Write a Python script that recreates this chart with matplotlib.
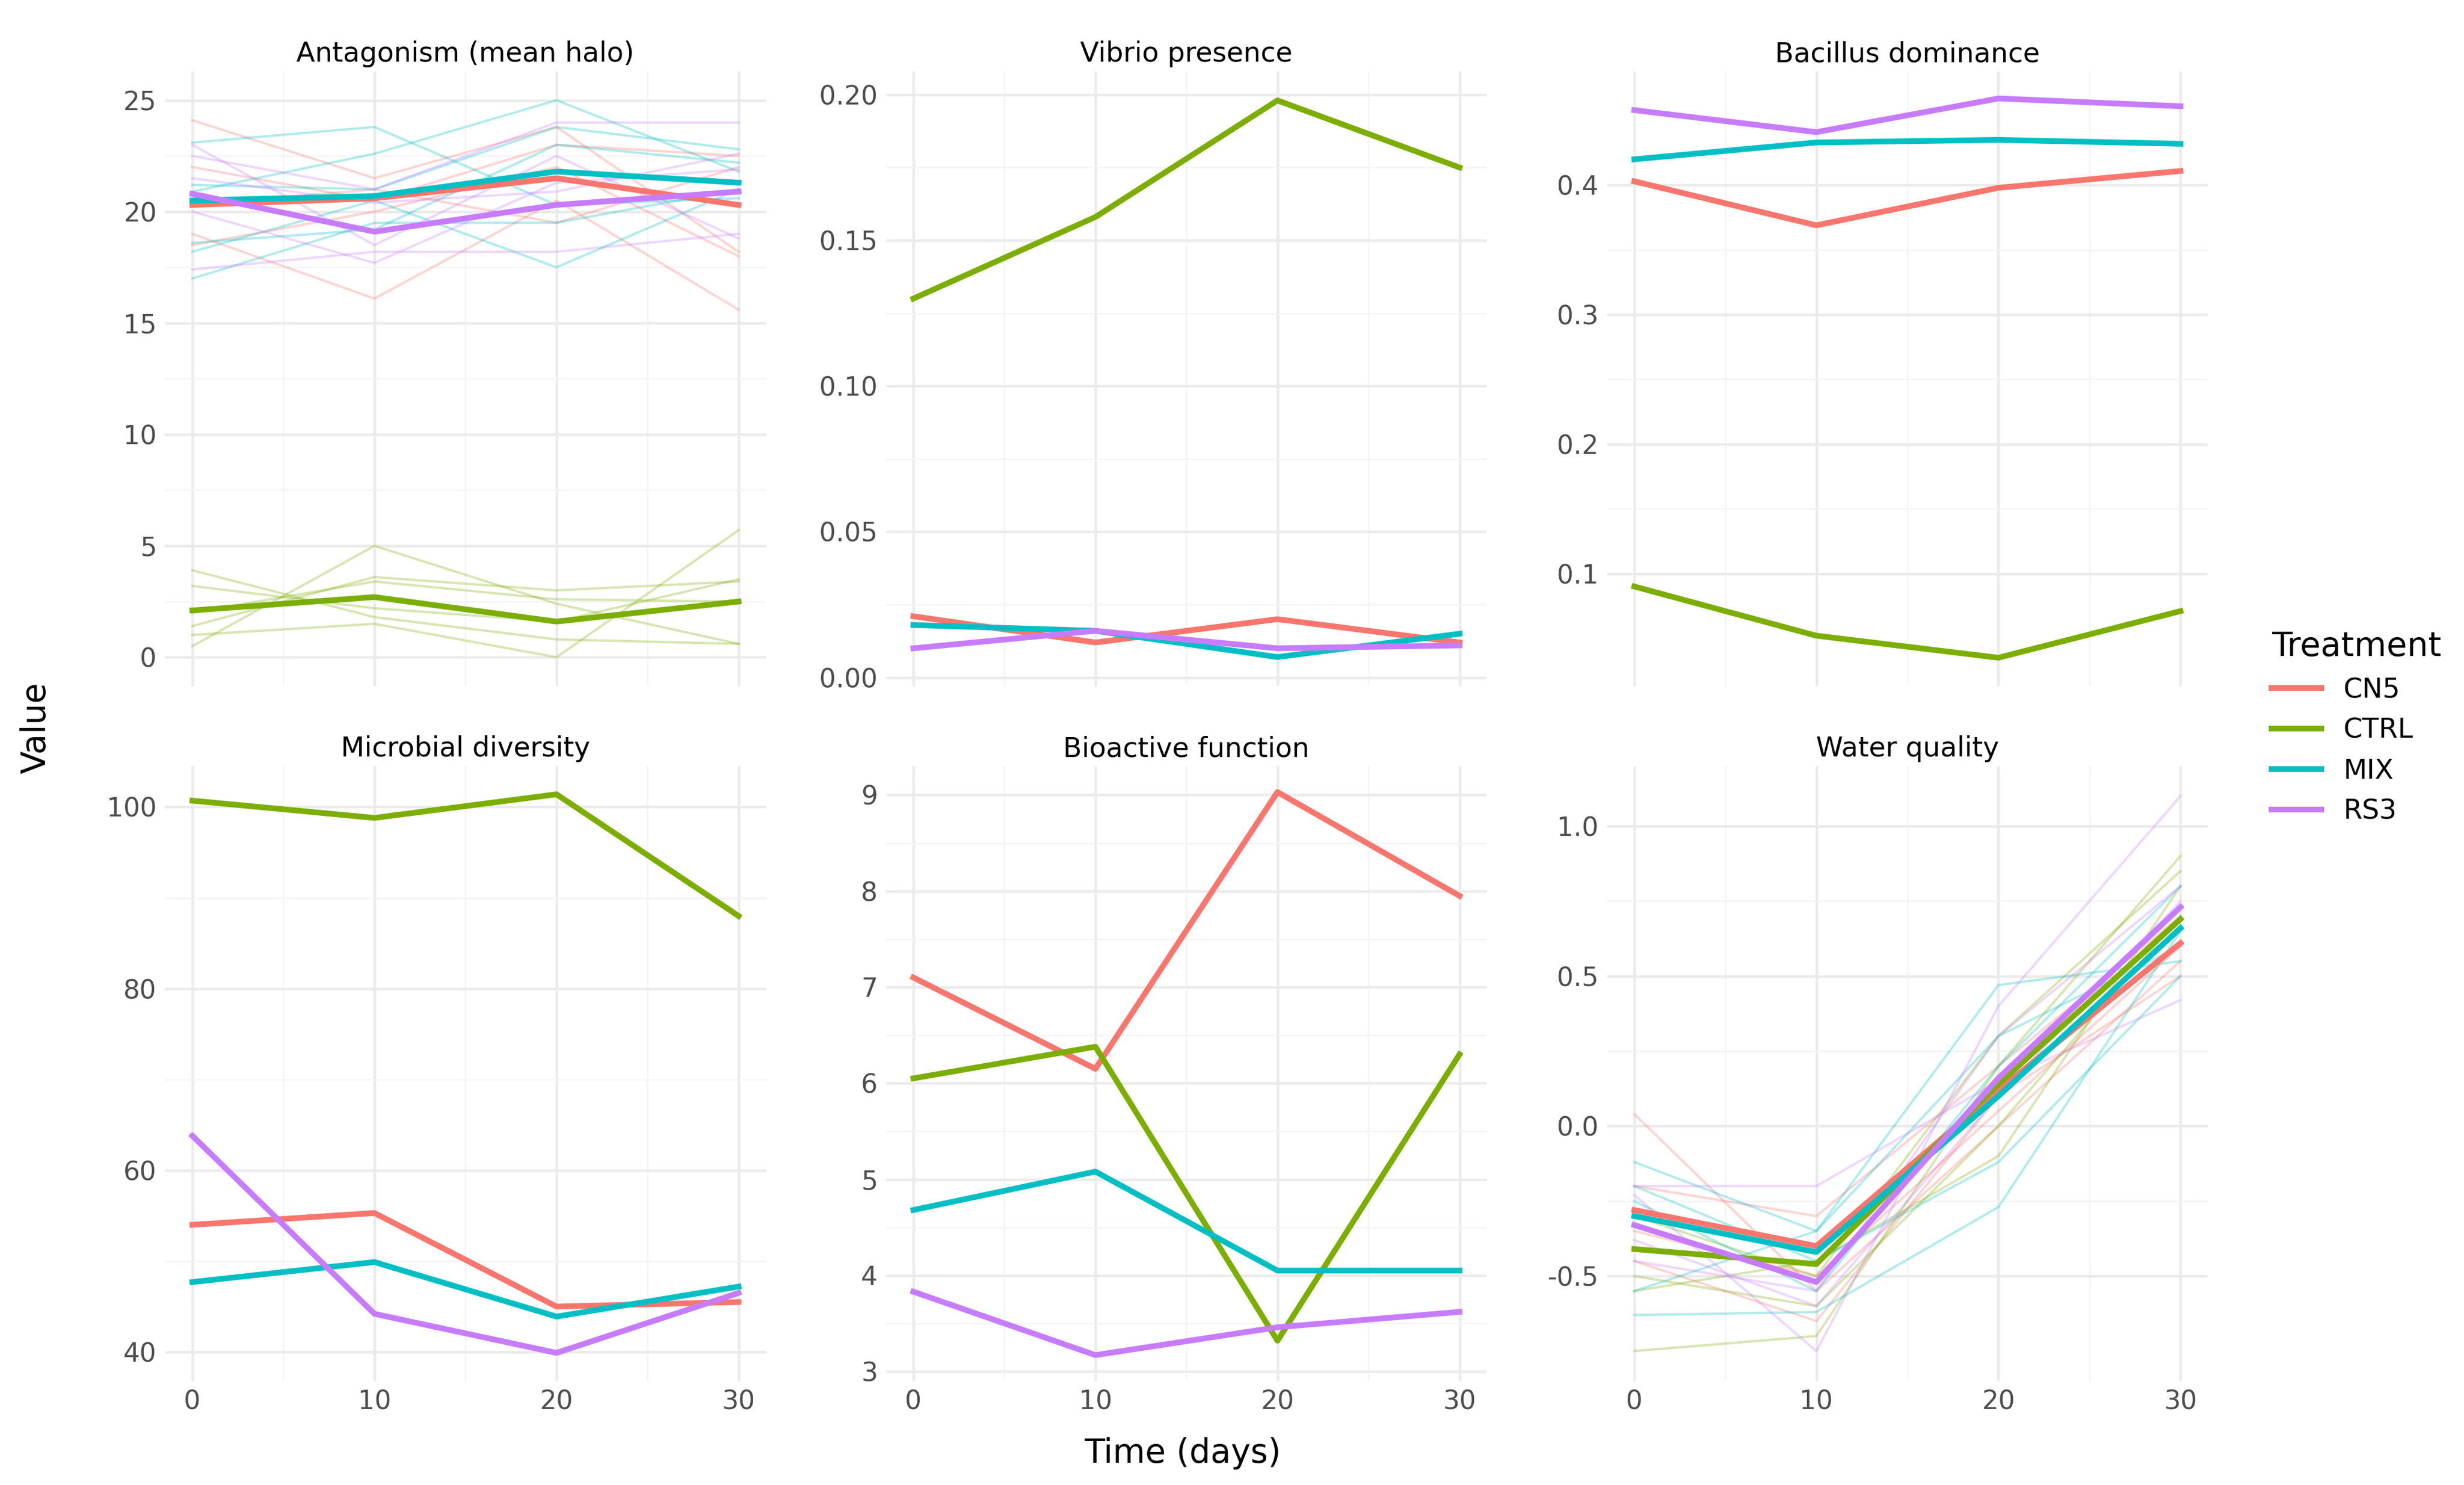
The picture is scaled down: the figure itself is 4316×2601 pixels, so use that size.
import matplotlib.pyplot as plt
from matplotlib.lines import Line2D

days = [0, 10, 20, 30]
treatments = ['CN5', 'CTRL', 'MIX', 'RS3']
colors = {'CN5': '#F8766D', 'CTRL': '#7CAE00', 'MIX': '#00BFC4', 'RS3': '#C77CFF'}
panels = ['Antagonism (mean halo)', 'Vibrio presence', 'Bacillus dominance',
          'Microbial diversity', 'Bioactive function', 'Water quality']

# treatment means per panel
means = {
    'Antagonism (mean halo)': {'CN5': [20.3, 20.6, 21.5, 20.3], 'CTRL': [2.1, 2.7, 1.6, 2.5],
                               'MIX': [20.5, 20.7, 21.8, 21.3], 'RS3': [20.8, 19.1, 20.3, 20.9]},
    'Vibrio presence': {'CN5': [0.021, 0.012, 0.020, 0.012], 'CTRL': [0.130, 0.158, 0.198, 0.175],
                        'MIX': [0.018, 0.016, 0.007, 0.015], 'RS3': [0.010, 0.016, 0.010, 0.011]},
    'Bacillus dominance': {'CN5': [0.403, 0.369, 0.398, 0.411], 'CTRL': [0.090, 0.052, 0.035, 0.071],
                           'MIX': [0.420, 0.433, 0.435, 0.432], 'RS3': [0.458, 0.441, 0.467, 0.461]},
    'Microbial diversity': {'CN5': [54.0, 55.3, 45.0, 45.5], 'CTRL': [100.7, 98.8, 101.4, 88.0],
                            'MIX': [47.7, 49.9, 43.9, 47.2], 'RS3': [63.8, 44.2, 39.9, 46.5]},
    'Bioactive function': {'CN5': [7.1, 6.15, 9.03, 7.95], 'CTRL': [6.05, 6.38, 3.32, 6.3],
                           'MIX': [4.68, 5.08, 4.05, 4.05], 'RS3': [3.83, 3.17, 3.46, 3.62]},
    'Water quality': {'CN5': [-0.28, -0.40, 0.12, 0.61], 'CTRL': [-0.41, -0.46, 0.14, 0.69],
                      'MIX': [-0.30, -0.42, 0.10, 0.66], 'RS3': [-0.33, -0.52, 0.16, 0.73]},
}

# individual replicate traces (faint)
reps = {
    'Antagonism (mean halo)': {
        'CN5': [[24.1, 21.5, 23.8, 18.2], [22.0, 20.5, 23.0, 22.5], [19.0, 16.1, 20.5, 15.6],
                [20.3, 21.0, 19.5, 22.0], [18.5, 20.0, 22.0, 18.0]],
        'CTRL': [[3.9, 1.8, 0.8, 0.6], [0.5, 5.0, 2.4, 0.6], [1.4, 3.6, 3.0, 3.4],
                 [3.2, 2.2, 1.6, 3.5], [1.0, 1.5, 0.0, 5.7], [2.0, 3.4, 2.6, 2.5]],
        'MIX': [[23.1, 23.8, 20.3, 20.6], [20.9, 22.6, 25.0, 21.8], [18.6, 19.2, 23.0, 22.2],
                [18.2, 20.5, 17.5, 21.0], [21.2, 21.0, 23.8, 22.8], [17.0, 19.5, 19.5, 21.0]],
        'RS3': [[22.5, 21.0, 24.0, 24.0], [20.0, 17.7, 21.3, 21.9], [17.4, 18.2, 18.2, 19.0],
                [23.0, 18.5, 22.5, 18.8], [21.5, 20.4, 20.9, 22.6]],
    },
    'Water quality': {
        'CN5': [[0.04, -0.55, 0.0, 0.55], [-0.45, -0.65, 0.1, 0.5], [-0.2, -0.3, 0.2, 0.7],
                [-0.35, -0.5, 0.05, 0.6]],
        'CTRL': [[-0.75, -0.7, 0.2, 0.9], [-0.55, -0.45, -0.1, 0.8], [-0.3, -0.5, 0.3, 0.85],
                 [-0.5, -0.6, 0.0, 0.7]],
        'MIX': [[-0.12, -0.35, 0.47, 0.55], [-0.63, -0.62, -0.27, 0.65], [-0.2, -0.45, -0.12, 0.5],
                [-0.25, -0.55, 0.2, 0.8], [-0.55, -0.35, 0.3, 0.6]],
        'RS3': [[-0.23, -0.75, 0.4, 1.1], [-0.45, -0.55, 0.3, 0.8], [-0.2, -0.2, 0.15, 0.42],
                [-0.38, -0.6, 0.1, 0.75]],
    },
}

yticks = {
    'Antagonism (mean halo)': ([0, 5, 10, 15, 20, 25], (-1.3, 26.3)),
    'Vibrio presence': ([0.0, 0.05, 0.10, 0.15, 0.20], (-0.003, 0.208)),
    'Bacillus dominance': ([0.1, 0.2, 0.3, 0.4], (0.013, 0.488)),
    'Microbial diversity': ([40, 60, 80, 100], (36.8, 104.5)),
    'Bioactive function': ([3, 4, 5, 6, 7, 8, 9], (2.9, 9.3)),
    'Water quality': ([-0.5, 0.0, 0.5, 1.0], (-0.85, 1.2)),
}
ytfmt = {'Vibrio presence': '{:.2f}', 'Bacillus dominance': '{:.1f}', 'Water quality': '{:.1f}'}

fig, axes = plt.subplots(2, 3, figsize=(14.387, 8.67), dpi=300, sharex=True)
fig.subplots_adjust(left=0.067, right=0.896, bottom=0.07, top=0.952, wspace=0.2, hspace=0.13)

for ax, name in zip(axes.flatten(), panels):
    for t in treatments:
        for r in reps.get(name, {}).get(t, []):
            ax.plot(days, r, color=colors[t], alpha=0.3, lw=1.0)
    for t in treatments:
        ax.plot(days, means[name][t], color=colors[t], lw=2.4)
    ticks, lim = yticks[name]
    ax.set_yticks(ticks)
    fmt = ytfmt.get(name, '{:g}')
    ax.set_yticklabels([fmt.format(v) for v in ticks])
    ax.set_ylim(lim)
    minor = [(a + b) / 2 for a, b in zip(ticks[:-1], ticks[1:])]
    ax.set_yticks(minor, minor=True)
    ax.set_xticks(days)
    ax.set_xticks([5, 15, 25], minor=True)
    ax.set_xlim(-1.5, 31.5)
    ax.grid(which='major', color='#EBEBEB', lw=1.1)
    ax.grid(which='minor', color='#F4F4F4', lw=0.6)
    ax.set_axisbelow(True)
    for s in ax.spines.values():
        s.set_visible(False)
    ax.tick_params(which='both', length=0, labelsize=11, labelcolor='#4D4D4D')
    ax.set_title(name, fontsize=11.5, pad=4)

fig.text(0.008, 0.51, 'Value', rotation=90, va='center', fontsize=14)
fig.text(0.48, 0.015, 'Time (days)', ha='center', fontsize=14)

handles = [Line2D([0], [0], color=colors[t], lw=2.4) for t in treatments]
fig.legend(handles, treatments, loc='center left', bbox_to_anchor=(0.912, 0.51),
           frameon=False, title='Treatment', title_fontsize=14, fontsize=11.5,
           handlelength=1.8, alignment='left')

fig.savefig('out.png', dpi=300, facecolor='white')
